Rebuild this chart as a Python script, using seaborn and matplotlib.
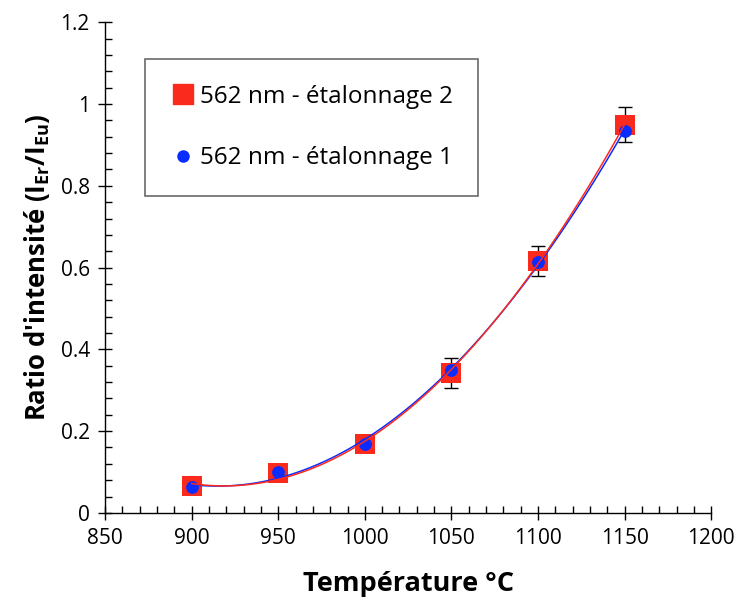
import numpy as np
import pandas as pd
import matplotlib
matplotlib.use('Agg')
import matplotlib.pyplot as plt
import seaborn as sns
from matplotlib.ticker import MultipleLocator
from matplotlib.lines import Line2D

# Données
temperature = [900, 950, 1000, 1050, 1100, 1150]
ratio_etal2 = [0.065, 0.098, 0.169, 0.342, 0.616, 0.949]
ratio_etal1 = [0.064, 0.100, 0.168, 0.350, 0.614, 0.934]
err_etal2 = [0.0, 0.0, 0.0, 0.037, 0.036, 0.043]

red = '#fa2a1c'
blue = '#0b2cff'

sns.set_theme(style='ticks')
plt.rcParams['font.family'] = ['Open Sans', 'DejaVu Sans']
plt.rcParams['mathtext.default'] = 'regular'
plt.rcParams['text.color'] = 'black'
plt.rcParams['axes.labelcolor'] = 'black'
plt.rcParams['xtick.color'] = 'black'
plt.rcParams['ytick.color'] = 'black'

df2 = pd.DataFrame({'T': temperature, 'R': ratio_etal2})
df1 = pd.DataFrame({'T': temperature, 'R': ratio_etal1})

fig = plt.figure(figsize=(7.4, 6.02), dpi=100)
ax = fig.add_axes([0.142, 0.148, 0.819, 0.815])

ax.errorbar(temperature, ratio_etal2, yerr=err_etal2, fmt='none', ecolor='black',
            elinewidth=1, capsize=5, capthick=1, zorder=1)

sns.regplot(data=df2, x='T', y='R', order=2, ci=None, ax=ax, marker='s',
            color=red, scatter_kws={'s': 200, 'alpha': 1, 'zorder': 2, 'linewidths': 0},
            line_kws={'lw': 1.1, 'zorder': 4})
sns.regplot(data=df1, x='T', y='R', order=2, ci=None, ax=ax, marker='o',
            color=blue, scatter_kws={'s': 85, 'alpha': 1, 'zorder': 3, 'linewidths': 0},
            line_kws={'lw': 1.1, 'zorder': 3.5})

ax.set_xlim(850, 1200)
ax.set_ylim(0, 1.2)
ax.xaxis.set_major_locator(MultipleLocator(50))
ax.xaxis.set_minor_locator(MultipleLocator(10))
ax.yaxis.set_major_locator(MultipleLocator(0.2))
ax.yaxis.set_minor_locator(MultipleLocator(0.04))
ax.set_yticks([0, 0.2, 0.4, 0.6, 0.8, 1.0, 1.2])
ax.set_yticklabels(['0', '0.2', '0.4', '0.6', '0.8', '1', '1.2'])

ax.tick_params(axis='both', which='major', direction='inout', length=10, width=1,
               labelsize=15, color='black', labelcolor='black', pad=6)
ax.tick_params(axis='both', which='minor', direction='in', length=5, width=1, color='black')
sns.despine(ax=ax)
for s in ['left', 'bottom']:
    ax.spines[s].set_color('black')
    ax.spines[s].set_linewidth(1)

ax.set_xlabel('Température °C', fontsize=19.5, fontweight='bold', labelpad=16)
ax.set_ylabel("Ratio d'intensité (I$_{Er}$/I$_{Eu}$)", fontsize=18.5, fontweight='bold', labelpad=6)

handles = [Line2D([], [], marker='s', color=red, ls='none', markersize=14),
           Line2D([], [], marker='o', color=blue, ls='none', markersize=8)]
leg = ax.legend(handles, ['562 nm - étalonnage 2', '562 nm - étalonnage 1'],
                loc='upper left', bbox_to_anchor=(0.066, 0.925), fontsize=17.5,
                frameon=True, fancybox=False, edgecolor='#444444', handletextpad=0.2,
                handlelength=1.0, labelspacing=1.55, borderpad=1.05, borderaxespad=0)
leg.get_frame().set_linewidth(1.2)
for t in leg.get_texts():
    t.set_color('black')

fig.savefig('out.png', dpi=100)
